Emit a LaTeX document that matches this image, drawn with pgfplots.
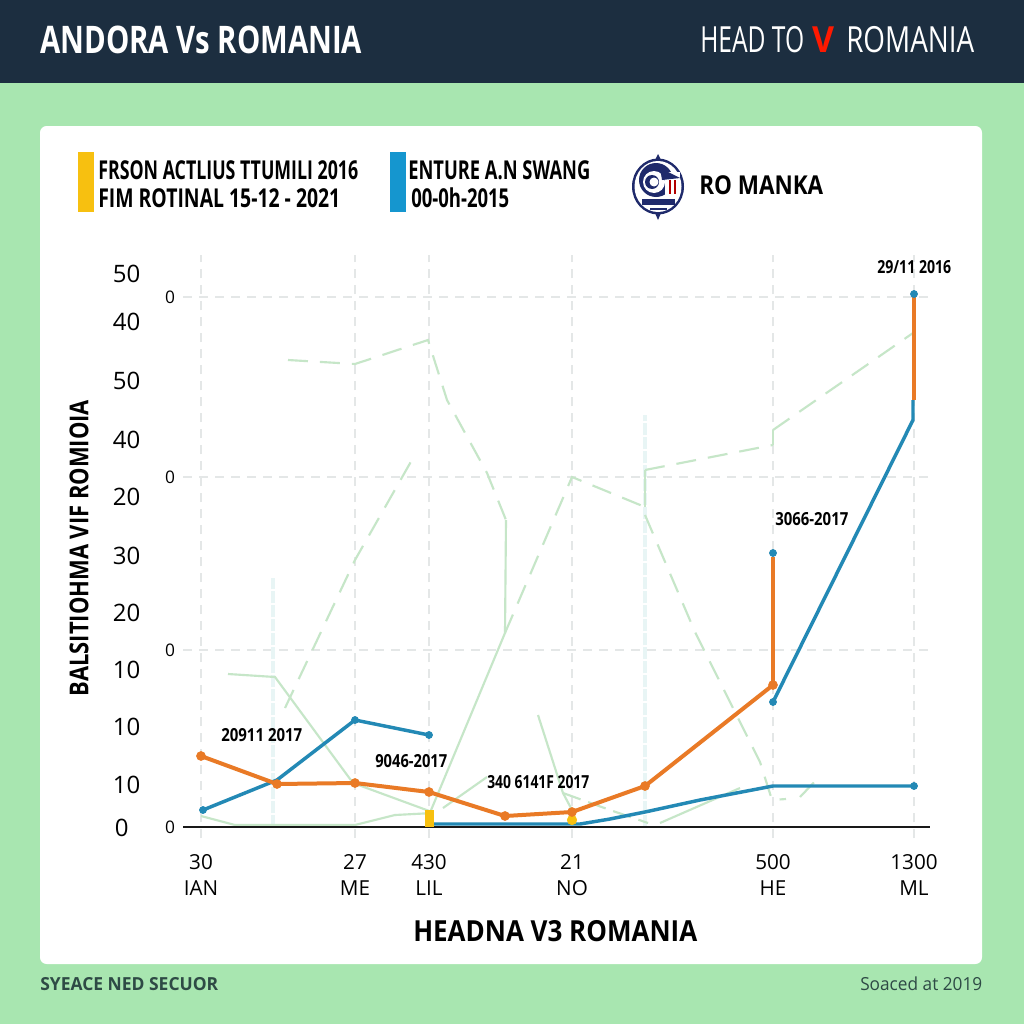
\documentclass[border=0pt]{standalone}
\usepackage{graphicx}
\usepackage{fontspec}
\usepackage{pgfplots}
\pgfplotsset{compat=1.18}
\setmainfont{Open Sans}
\definecolor{hdr}{HTML}{1C2E40}
\definecolor{bgg}{HTML}{A8E6B0}
\definecolor{org}{HTML}{E97A26}
\definecolor{blu}{HTML}{2389B5}
\definecolor{pal}{HTML}{C6E6C8}
\definecolor{gridc}{HTML}{E4E7E7}
\definecolor{cya}{HTML}{E8F5F5}
\definecolor{yel}{HTML}{F7C010}
\definecolor{swb}{HTML}{1596CF}
\definecolor{navy}{HTML}{1F2A6B}
\definecolor{foot}{HTML}{2E4A45}
% TT{x}{y}{size px}{width px}{colour}{text}: left anchored text fitted to a width
\newcommand\TT[6]{\pgfmathsetlengthmacro\fsz{#3*0.75pt}\pgfmathsetlengthmacro\wdt{#4*0.75pt}\node[anchor=west,inner sep=0pt,text=#5] at (#1,#2) {\resizebox{\wdt}{\height}{\fontsize{\fsz}{\fsz}\selectfont #6}};}
\begin{document}
\begin{tikzpicture}
\begin{scope}[x=0.75pt,y=-0.75pt]
\useasboundingbox (0,0) rectangle (1024,1024);
\fill[bgg] (0,0) rectangle (1024,1024);
\fill[hdr] (0,0) rectangle (1024,83);
\fill[white,rounded corners=5pt] (40,126) rectangle (982,964);
\fill[yel] (78,152) rectangle (94,212);
\fill[swb] (390,152) rectangle (406,212);
% logo
\fill[navy] (658,154) -- (661,160) -- (655,160) -- cycle;
\fill[navy] (658,220) -- (661,213) -- (655,213) -- cycle;
\fill[navy] (658,186.5) ellipse (26 and 28);
\fill[white] (658,186.5) ellipse (23.5 and 25.5);
\fill[navy] (656,180) circle (17);
\fill[white] (654,182) circle (11);
\fill[navy] (652,182) circle (7);
\fill[white] (654,182) circle (4.5);
\fill[white] (665,172) rectangle (680,195);
\fill[navy] (660,168) -- (680,178) -- (662,180) -- cycle;
\fill[red!70!black] (669,180) rectangle (671,194);
\fill[red!70!black] (674,180) rectangle (676,194);
\fill[navy] (642,199) rectangle (675,205);
\fill[navy] (650,208) rectangle (667,210);
\end{scope}
\begin{axis}[
  at={(137.25pt,-628.5pt)}, anchor=south west,
  scale only axis, width=560.25pt, height=437.25pt,
  xmin=183, xmax=930, ymin=-11, ymax=572,
  clip=false,
  axis line style={draw=none},
  major tick length=0pt,
  grid=major,
  grid style={gridc, line width=1.1pt, dash pattern=on 7pt off 5pt},
  xtick={201,355,429,572,773,914},
  xticklabels={{30\\IAN},{27\\ME},{430\\LIL},{21\\NO},{500\\HE},{1300\\ML}},
  xticklabel style={align=center, font=\fontsize{15.5pt}{19.5pt}\selectfont, yshift=-8.5pt},
  ytick={0,177,350,530},
  yticklabels={0,0,0,0},
  yticklabel style={font=\fontsize{13pt}{15pt}\selectfont, xshift=-2.5pt},
  extra y ticks={-1,42,100,157,214,271,330,387,446,505,553},
  extra y tick labels={\makebox[19pt][l]{0},10,10,10,20,30,20,40,50,40,50},
  extra y tick style={grid=none, yticklabel style={font=\fontsize{18pt}{20pt}\selectfont, xshift=-26pt}},
]
% pale verticals
\addplot[cya, line width=2.6pt, dash pattern=on 9pt off 1.5pt] coordinates {(273,0) (273,249)};
\addplot[cya, line width=2.6pt, dash pattern=on 9pt off 1.5pt] coordinates {(645,0) (645,412)};
% pale green series (dashed)
\addplot[pal, line width=1.6pt, dash pattern=on 15pt off 9pt] coordinates {(288,467) (355,463) (428,487) (447,427) (487,354) (506,307)};
\addplot[pal, line width=1.6pt] coordinates {(506,307) (505,194) (429,12)};
\addplot[pal, line width=1.6pt, dash pattern=on 15pt off 9pt] coordinates {(505,194) (572,350) (645,320)};
\addplot[pal, line width=1.6pt] coordinates {(645,320) (645,357)};
\addplot[pal, line width=1.6pt, dash pattern=on 15pt off 9pt] coordinates {(645,357) (773,382)};
\addplot[pal, line width=1.6pt] coordinates {(773,382) (773,397)};
\addplot[pal, line width=1.6pt, dash pattern=on 15pt off 9pt] coordinates {(773,397) (913,494)};
\addplot[pal, line width=1.6pt, dash pattern=on 15pt off 9pt] coordinates {(645,312) (695,195) (760,65) (772,27) (786,28)};
\addplot[pal, line width=1.6pt, dash pattern=on 15pt off 9pt] coordinates {(800,30) (821,52)};
\addplot[pal, line width=1.6pt, dash pattern=on 15pt off 9pt] coordinates {(285,119) (355,267) (413,369)};
\addplot[pal, line width=1.6pt] coordinates {(228,153) (275,150) (353,44) (432,15)};
\addplot[pal, line width=1.6pt] coordinates {(395,12) (433,14)};
\addplot[pal, line width=1.6pt] coordinates {(443,19) (487,50)};
\addplot[pal, line width=1.6pt] coordinates {(538,112) (563,34) (572,17)};
\addplot[pal, line width=1.6pt, dash pattern=on 14pt off 6pt] coordinates {(563,34) (610,17) (648,4)};
\addplot[pal, line width=1.6pt] coordinates {(660,4) (740,39)};
\addplot[pal, line width=1.6pt] coordinates {(201,11) (235,2) (355,2) (395,12)};
% baseline
\addplot[black!90, line width=1.6pt] coordinates {(183,0) (930,0)};
% yellow markers
\addplot[only marks, mark=square*, mark size=4.5pt, yel, mark options={yscale=1.3,xscale=0.7}] coordinates {(429,9)};
\addplot[only marks, mark=*, mark size=3.6pt, yel] coordinates {(572,7)};
% blue series
\addplot[blu, line width=2.6pt] coordinates {(432,3) (580,3) (610,8) (645,15) (700,27) (773,41) (914,41)};
\addplot[only marks, mark=*, mark size=2.7pt, blu] coordinates {(914,41)};
\addplot[blu, line width=2.6pt] coordinates {(203,17) (277,47) (355,107) (429,92)};
\addplot[only marks, mark=*, mark size=2.7pt, blu] coordinates {(203,17) (355,107) (429,92)};
\addplot[blu, line width=2.6pt] coordinates {(773,125) (913,407) (913,427)};
\addplot[only marks, mark=*, mark size=2.7pt, blu] coordinates {(773,125)};
% orange series
\addplot[org, line width=3pt] coordinates {(201,71) (277,43) (355,44) (429,35) (505,11) (572,15) (645,41) (773,142)};
\addplot[only marks, mark=*, mark size=3.4pt, org] coordinates {(201,71) (277,43) (355,44) (429,35) (505,11) (572,15) (645,41) (773,142)};
\addplot[org, line width=3pt] coordinates {(773,142) (773,270)};
\addplot[org, line width=3pt] coordinates {(914,427) (914,530)};
\addplot[only marks, mark=*, mark size=2.7pt, blu] coordinates {(773,274) (914,533)};
\end{axis}
\begin{scope}[x=0.75pt,y=-0.75pt]
\TT{40}{40}{38}{322}{white}{\textbf{ANDORA Vs ROMANIA}}
\TT{700}{40}{36}{104}{white}{HEAD TO}
\TT{812}{40}{36}{22}{red!80!orange}{\textbf{V}}
\TT{846}{40}{36}{128}{white}{ROMANIA}
\TT{98}{170}{26}{260}{black}{\textbf{FRSON ACTLIUS TTUMILI 2016}}
\TT{98}{198}{26}{242}{black}{\textbf{FIM ROTINAL 15-12 - 2021}}
\TT{408}{170}{26}{182}{black}{\textbf{ENTURE A.N SWANG}}
\TT{411}{198}{26}{98}{black}{\textbf{00-0h-2015}}
\TT{699}{185}{26}{124}{black}{\textbf{RO MANKA}}
\TT{221}{735}{18}{81}{black}{\textbf{20911 2017}}
\TT{375}{761}{18}{72}{black}{\textbf{9046-2017}}
\TT{487}{782}{18}{102}{black}{\textbf{340 6141F 2017}}
\TT{775}{519}{18}{73}{black}{\textbf{3066-2017}}
\TT{877}{267}{18}{74}{black}{\textbf{29/11 2016}}
\TT{413}{931}{29}{284}{black}{\textbf{HEADNA V3 ROMANIA}}
\TT{40}{984}{18}{178}{foot}{\textbf{SYEACE NED SECUOR}}
\TT{860}{984}{18}{122}{foot}{Soaced at 2019}
\pgfmathsetlengthmacro\fsz{26*0.75pt}\pgfmathsetlengthmacro\wdt{296*0.75pt}
\node[rotate=90,inner sep=0pt] at (79,548) {\resizebox{\wdt}{\height}{\fontsize{\fsz}{\fsz}\selectfont\textbf{BALSITIOHMA VIF ROMIOIA}}};
\end{scope}
\end{tikzpicture}
\end{document}
